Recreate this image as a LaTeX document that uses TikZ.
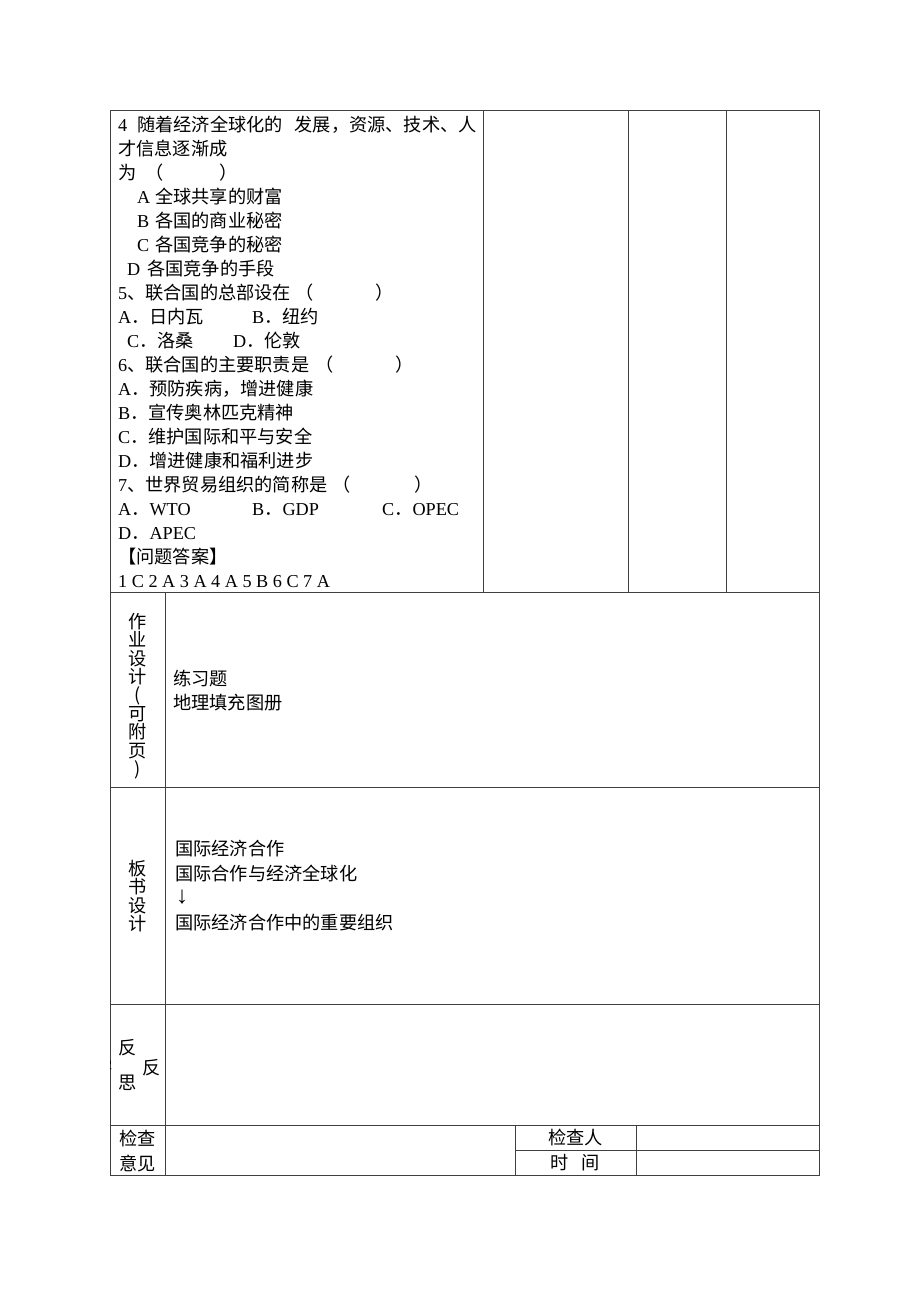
\documentclass[tikz,border=0pt]{standalone}
\usepackage{fontspec}
\setmainfont{Liberation Serif}
\newfontfamily\cjk{Noto Sans CJK SC}
\begin{document}
\begin{tikzpicture}[x=1pt,y=-1pt]
\tikzset{
  grid/.style={draw=black!75, line width=1pt},
  t/.style={anchor=base west, inner sep=0pt, font=\fontsize{18.2}{24}\selectfont},
  c/.style={anchor=center, inner sep=0pt, font=\cjk\fontsize{18.2}{18.4}\selectfont, align=center},
}
\useasboundingbox[fill=white] (0,0) rectangle (920,1302);
% table grid
\draw[grid] (110,110) rectangle (819,1175);
\draw[grid] (110,592) -- (819,592);
\draw[grid] (110,787) -- (819,787);
\draw[grid] (110,1004) -- (819,1004);
\draw[grid] (110,1125) -- (819,1125);
\draw[grid] (165,592) -- (165,1175);
\draw[grid] (483,110) -- (483,592);
\draw[grid] (628,110) -- (628,592);
\draw[grid] (726,110) -- (726,592);
\draw[grid] (515,1125) -- (515,1175);
\draw[grid] (636,1125) -- (636,1175);
\draw[grid] (515,1150) -- (819,1150);
% top row questions
\node[t] (l1a) at (118,131.0) {4};
\node[t] (l1b) at (137,131.0) {\cjk 随着经济全球化的\hspace{12pt}发展，资源、技术、人};
\node[t] (l2) at (118,155.0) {\cjk 才信息逐渐成};
\node[t] (l3a) at (118,179.1) {\cjk 为};
\node[t] (l3b) at (145,179.1) {\cjk （};
\node[t] (l3c) at (219,179.1) {\cjk ）};
\node[t] (l4) at (137,203.1) {\makebox[18pt][l]{A}{\cjk 全球共享的财富}};
\node[t] (l5) at (137,227.1) {\makebox[18pt][l]{B}{\cjk 各国的商业秘密}};
\node[t] (l6) at (137,251.2) {\makebox[18pt][l]{C}{\cjk 各国竞争的秘密}};
\node[t] (l7) at (127,275.2) {\makebox[20pt][l]{D}{\cjk 各国竞争的手段}};
\node[t] (l8a) at (118,299.2) {5{\cjk 、联合国的总部设在}};
\node[t] (l8b) at (295,299.2) {\cjk （};
\node[t] (l8c) at (375,299.2) {\cjk ）};
\node[t] (l9a) at (118,323.2) {A{\cjk ．日内瓦}};
\node[t] (l9b) at (252,323.2) {B{\cjk ．纽约}};
\node[t] (l10a) at (127,347.3) {C{\cjk ．洛桑}};
\node[t] (l10b) at (233,347.3) {D{\cjk ．伦敦}};
\node[t] (l11a) at (118,371.3) {6{\cjk 、联合国的主要职责是}};
\node[t] (l11b) at (315,371.3) {\cjk （};
\node[t] (l11c) at (395,371.3) {\cjk ）};
\node[t] (l12) at (118,395.3) {A{\cjk ．预防疾病，增进健康}};
\node[t] (l13) at (118,419.4) {B{\cjk ．宣传奥林匹克精神}};
\node[t] (l14) at (118,443.4) {C{\cjk ．维护国际和平与安全}};
\node[t] (l15) at (118,467.4) {D{\cjk ．增进健康和福利进步}};
\node[t] (l16a) at (118,491.5) {7{\cjk 、世界贸易组织的简称是}};
\node[t] (l16b) at (332,491.5) {\cjk （};
\node[t] (l16c) at (414,491.5) {\cjk ）};
\node[t] (l17a) at (118,515.5) {A{\cjk ．}WTO};
\node[t] (l17b) at (252,515.5) {B{\cjk ．}GDP};
\node[t] (l17c) at (382,515.5) {C{\cjk ．}OPEC};
\node[t] (l18) at (118,539.5) {D{\cjk ．}APEC};
\node[t] (l19) at (118,563.5) {\cjk 【问题答案】};
\node[t] (l20) at (118,587.6) {1 C 2 A 3 A 4 A 5 B 6 C 7 A};
% homework row
\node[c] (zy) at (137.5,696) {作\\业\\设\\计\\(\\可\\附\\页\\)};
\node[t] (hw1) at (173,685) {\cjk 练习题};
\node[t] (hw2) at (173,709) {\cjk 地理填充图册};
% board design row
\node[c] (bs) at (137.5,896) {板\\书\\设\\计};
\node[t] (bd1) at (175,855) {\cjk 国际经济合作};
\node[t] (bd2) at (175,880) {\cjk 国际合作与经济全球化};
\node[anchor=center, inner sep=0pt, font=\fontsize{24}{24}\selectfont] (bd3) at (182,897) {↓};
\node[t] (bd4) at (175,929) {\cjk 国际经济合作中的重要组织};
% reflection row
\begin{scope}
  \clip (110.5,1050) rectangle (115,1082);
  \node[c] (frag) at (104,1066) {学};
\end{scope}
\node[c] (fs1) at (128,1048) {反};
\node[c] (fs2) at (152,1068) {反};
\node[c] (fs3) at (128,1083) {思};
% check row
\node[c] (jc1) at (137.5,1138) {检查};
\node[c] (jc2) at (137.5,1163) {意见};
\node[c] (jcr) at (575.5,1137) {检查人};
\node[c] (sj) at (575.5,1163) {时\hspace{12.8pt}间};
\end{tikzpicture}
\end{document}
